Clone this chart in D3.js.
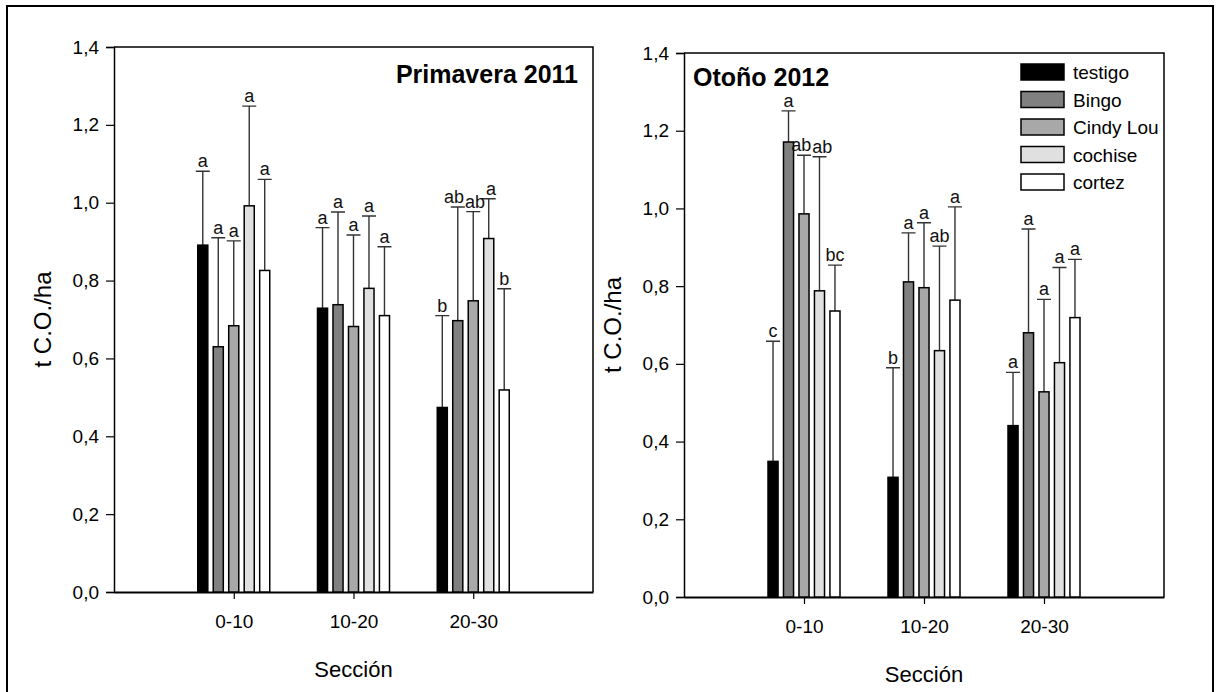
<!DOCTYPE html>
<html>
<head>
<meta charset="utf-8">
<script src="https://cdn.jsdelivr.net/npm/d3@7"></script>
<style>
  body { margin: 0; background: #fff; }
  svg { font-family: "Liberation Sans", Arial, sans-serif; }
</style>
</head>
<body>
<svg id="viz_area" width="1217" height="692"></svg>
<script>
// categories and series
const secciones = ["0-10", "10-20", "20-30"];
const series = ["testigo", "Bingo", "Cindy Lou", "cochise", "cortez"];
const yTicks = [0, 0.2, 0.4, 0.6, 0.8, 1.0, 1.2, 1.4];

// Primavera 2011: means, error (upper) and letters per series, per seccion
const prim_testigo = [0.891, 0.729, 0.474];
const prim_bingo   = [0.630, 0.738, 0.697];
const prim_cindy   = [0.684, 0.682, 0.748];
const prim_cochise = [0.992, 0.780, 0.908];
const prim_cortez  = [0.826, 0.710, 0.519];

const prim_err_testigo = [0.190, 0.207, 0.236];
const prim_err_bingo   = [0.280, 0.238, 0.292];
const prim_err_cindy   = [0.218, 0.235, 0.229];
const prim_err_cochise = [0.256, 0.186, 0.102];
const prim_err_cortez  = [0.234, 0.177, 0.260];

const prim_let_testigo = ["a", "a", "b"];
const prim_let_bingo   = ["a", "a", "ab"];
const prim_let_cindy   = ["a", "a", "ab"];
const prim_let_cochise = ["a", "a", "a"];
const prim_let_cortez  = ["a", "a", "b"];

// Otoño 2012
const oto_testigo = [0.349, 0.308, 0.441];
const oto_bingo   = [1.171, 0.811, 0.680];
const oto_cindy   = [0.986, 0.796, 0.528];
const oto_cochise = [0.788, 0.634, 0.603];
const oto_cortez  = [0.736, 0.764, 0.719];

const oto_err_testigo = [0.309, 0.282, 0.137];
const oto_err_bingo   = [0.080, 0.126, 0.267];
const oto_err_cindy   = [0.151, 0.167, 0.238];
const oto_err_cochise = [0.345, 0.269, 0.245];
const oto_err_cortez  = [0.118, 0.240, 0.150];

const oto_let_testigo = ["c", "b", "a"];
const oto_let_bingo   = ["a", "a", "a"];
const oto_let_cindy   = ["ab", "a", "a"];
const oto_let_cochise = ["ab", "ab", "a"];
const oto_let_cortez  = ["bc", "a", "a"];

const fills = ["#000000", "#808080", "#a8a8a8", "#e0e0e0", "#ffffff"];

const fmt = d3.formatLocale({decimal: ",", thousands: ".", grouping: [3], currency: ["", ""]}).format(".1f");

const build = (means, errs, lets) => {
    const rows = [];
    secciones.forEach((s, j) => {
        series.forEach((k, i) => {
            rows.push({seccion: s, serie: k, idx: i, value: means[i][j], err: errs[i][j], letter: lets[i][j]});
        });
    });
    return rows;
};

const svg = d3.select("#viz_area");

// outer frame
svg.append("rect")
    .attr("x", 7).attr("y", 6)
    .attr("width", 1206).attr("height", 700)
    .attr("fill", "none").attr("stroke", "#000").attr("stroke-width", 2);

const drawPanel = (opts) => {
    const {left, right, top, bottom, data, title, titleAnchor} = opts;
    const g = svg.append("g");

    const x = d3.scalePoint().domain(secciones).range([left, right]).padding(1);
    const xs = d3.scaleBand().domain(series).range([-36, 36]).paddingInner(0.35);
    const y = d3.scaleLinear().domain([0, 1.4]).range([bottom, top]);

    // frame top + right
    g.append("path")
        .attr("d", `M${left},${top}H${right}V${bottom}`)
        .attr("fill", "none").attr("stroke", "#000").attr("stroke-width", 1.5);

    // y axis
    const ya = g.append("g")
        .attr("transform", `translate(${left},0)`)
        .call(d3.axisLeft(y).tickValues(yTicks).tickFormat(fmt).tickSize(8).tickPadding(7));
    ya.select(".domain").attr("stroke", "#000").attr("stroke-width", 1.5);
    ya.selectAll(".tick line").attr("stroke", "#000").attr("stroke-width", 1.2);
    ya.selectAll("text").attr("font-size", 19).attr("fill", "#000").attr("font-family", "Liberation Sans, Arial, sans-serif");

    // x axis
    const xa = g.append("g")
        .attr("transform", `translate(0,${bottom})`)
        .call(d3.axisBottom(x).tickSizeInner(7).tickSizeOuter(0).tickPadding(16));
    xa.select(".domain").attr("stroke", "#000").attr("stroke-width", 2);
    xa.selectAll(".tick line").attr("stroke", "#000").attr("stroke-width", 1.2);
    xa.selectAll("text").attr("font-size", 19).attr("fill", "#000").attr("font-family", "Liberation Sans, Arial, sans-serif");

    // error bars (upper only)
    const bx = d => x(d.seccion) + xs(d.serie) + xs.bandwidth() / 2;
    g.selectAll(".err")
        .data(data)
        .enter()
        .append("path")
        .attr("d", d => `M${bx(d)},${y(d.value)}V${y(d.value + d.err)}M${bx(d) - 7},${y(d.value + d.err)}h14`)
        .attr("fill", "none").attr("stroke", "#333").attr("stroke-width", 1.4);

    // bars
    g.selectAll(".bar")
        .data(data)
        .enter()
        .append("rect")
        .attr("x", d => x(d.seccion) + xs(d.serie))
        .attr("y", d => y(d.value))
        .attr("width", xs.bandwidth())
        .attr("height", d => bottom - y(d.value))
        .attr("fill", d => fills[d.idx])
        .attr("stroke", "#000").attr("stroke-width", 1.5);

    // letters
    const lets = g.selectAll(".let")
        .data(data)
        .enter()
        .append("text")
        .attr("class", "let")
        .attr("x", d => bx(d))
        .attr("y", d => y(d.value + d.err) - 4)
        .attr("text-anchor", "middle")
        .attr("font-size", 18)
        .attr("fill", "#111")
        .text(d => d.letter);

    // nudge neighbouring letters apart so they don't collide
    const items = [];
    lets.each(function(d) {
        items.push({el: this, d: d, cx: bx(d), w: this.getComputedTextLength(), ly: y(d.value + d.err)});
    });
    for (let pass = 0; pass < 4; pass++) {
        secciones.forEach(s => {
            const grp = items.filter(it => it.d.seccion === s).sort((a, b) => a.d.idx - b.d.idx);
            for (let i = 1; i < grp.length; i++) {
                const a = grp[i - 1], b = grp[i];
                if (Math.abs(a.ly - b.ly) > 16) continue;
                const ov = (a.cx + a.w / 2) - (b.cx - b.w / 2) + 1;
                if (ov > 0) { a.cx -= ov / 2; b.cx += ov / 2; }
            }
        });
    }
    items.forEach(it => d3.select(it.el).attr("x", it.cx));

    // axis titles
    g.append("text")
        .attr("x", (left + right) / 2).attr("y", bottom + 85)
        .attr("text-anchor", "middle").attr("font-size", 22)
        .text("Sección");
    g.append("text")
        .attr("transform", `translate(${left - 63},${(top + bottom) / 2}) rotate(-90)`)
        .attr("text-anchor", "middle").attr("font-size", 24)
        .text("t C.O./ha");

    // panel title
    g.append("text")
        .attr("x", titleAnchor === "end" ? right - 15 : left + 9)
        .attr("y", top + (titleAnchor === "end" ? 36 : 33))
        .attr("text-anchor", titleAnchor)
        .attr("font-size", 25).attr("font-weight", "bold")
        .text(title);

    return {g, x, y};
};

drawPanel({
    left: 114, right: 593, top: 47, bottom: 592,
    data: build(
        [prim_testigo, prim_bingo, prim_cindy, prim_cochise, prim_cortez],
        [prim_err_testigo, prim_err_bingo, prim_err_cindy, prim_err_cochise, prim_err_cortez],
        [prim_let_testigo, prim_let_bingo, prim_let_cindy, prim_let_cochise, prim_let_cortez]),
    title: "Primavera 2011", titleAnchor: "end"
});

const right = drawPanel({
    left: 684, right: 1164, top: 53, bottom: 597,
    data: build(
        [oto_testigo, oto_bingo, oto_cindy, oto_cochise, oto_cortez],
        [oto_err_testigo, oto_err_bingo, oto_err_cindy, oto_err_cochise, oto_err_cortez],
        [oto_let_testigo, oto_let_bingo, oto_let_cindy, oto_let_cochise, oto_let_cortez]),
    title: "Otoño 2012", titleAnchor: "start"
});

// legend
const leg = right.g.append("g").attr("transform", "translate(1021,64)");
const rowH = 27.5;
leg.selectAll("rect")
    .data(series)
    .enter()
    .append("rect")
    .attr("x", 0).attr("y", (d, i) => i * rowH)
    .attr("width", 43).attr("height", 16)
    .attr("fill", (d, i) => fills[i])
    .attr("stroke", "#000").attr("stroke-width", 1.5);
leg.selectAll("text")
    .data(series)
    .enter()
    .append("text")
    .attr("x", 52).attr("y", (d, i) => i * rowH + 15)
    .attr("font-size", 19)
    .text(d => d);
</script>
</body>
</html>
